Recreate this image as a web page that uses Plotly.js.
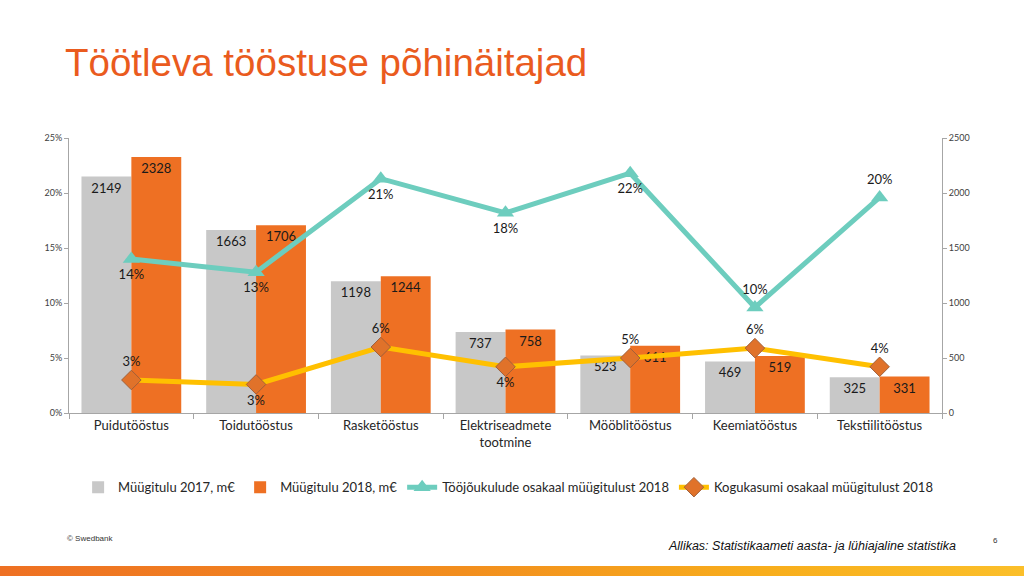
<!DOCTYPE html>
<html>
<head>
<meta charset="utf-8">
<script src="https://cdn.plot.ly/plotly-3.0.1.min.js"></script>
<style>
html,body{margin:0;padding:0;background:#fff;}
#wrap{position:relative;width:1024px;height:576px;overflow:hidden;}
#chart{width:1024px;height:576px;}
#band{position:absolute;left:0;top:566px;width:1024px;height:10px;background:linear-gradient(to right,#EE7023 0%,#F28E1E 45%,#F8AE1C 75%,#FBBF2A 100%);}
</style>
</head>
<body>
<div id="wrap"><div id="chart"></div><div id="band"></div></div>
<script>
const categories = ["Puidutööstus","Toidutööstus","Rasketööstus","Elektriseadmete<br>tootmine","Mööblitööstus","Keemiatööstus","Tekstiilitööstus"];
const sales2017 = [2149,1663,1198,737,523,469,325];
const sales2018 = [2328,1706,1244,758,611,519,331];
const laborShare = [14.0,12.8,21.3,18.2,21.8,9.6,19.6];
const profitShare = [3.0,2.6,6.0,4.2,5.0,5.9,4.2];
const laborLabelPos = ["bottom center","bottom center","bottom center","bottom center","bottom center","top center","top center"];
const profitLabelPos = ["top center","bottom center","top center","bottom center","top center","top center","top center"];
const pctTicks = [0,5,10,15,20,25];
const pctTickText = ["0%","5%","10%","15%","20%","25%"];
const salesTicks = [0,500,1000,1500,2000,2500];

const FONT = "Lato, 'Open Sans', sans-serif";
const labelFont = {family: FONT, size: 13, color: "#1a1a1a"};

const traces = [
  {type:"bar", name:"Müügitulu 2017, m€", x:categories, y:sales2017, yaxis:"y",
   marker:{color:"#C8C8C8"}, text:sales2017.map(String), textposition:"inside",
   insidetextanchor:"end", constraintext:"none", textangle:0, textfont:labelFont, insidetextfont:labelFont},
  {type:"bar", name:"Müügitulu 2018, m€", x:categories, y:sales2018, yaxis:"y",
   marker:{color:"#EE7023"}, text:sales2018.map(String), textposition:"inside",
   insidetextanchor:"end", constraintext:"none", textangle:0, textfont:labelFont, insidetextfont:labelFont},
  {type:"scatter", mode:"lines+markers+text", name:"Tööjõukulude osakaal müügitulust 2018",
   x:categories, y:laborShare, yaxis:"y2",
   line:{color:"#6DCDBE", width:5}, marker:{symbol:"triangle-up", size:15, color:"#6DCDBE"},
   texttemplate:"%{y:.0f}%", textposition:laborLabelPos, textfont:labelFont},
  {type:"scatter", mode:"lines+markers+text", name:"Kogukasumi osakaal müügitulust 2018",
   x:categories, y:profitShare, yaxis:"y2",
   line:{color:"#FFC000", width:5}, marker:{symbol:"diamond", size:15, color:"#E0722A", line:{color:"#A0603A", width:1}},
   texttemplate:"%{y:.0f}%", textposition:profitLabelPos, textfont:labelFont}
];

const axisFont = {family: FONT, size: 9, color: "#404040"};
const layout = {
  width:1024, height:576,
  paper_bgcolor:"#fff", plot_bgcolor:"#fff",
  margin:{l:69, r:82, t:138, b:163},
  barmode:"group", bargap:0.2, bargroupgap:0,
  font:{family:FONT},
  title:{text:"Töötleva tööstuse põhinäitajad", xref:"container", yref:"container",
    x:65/1024, xanchor:"left", y:1-63/576, yanchor:"middle",
    font:{family:"'Liberation Sans', Arial, sans-serif", size:38.5, color:"#EA5B1E"}},
  xaxis:{type:"category", showline:true, linecolor:"#A6A6A6", linewidth:1,
    ticks:"outside", ticklen:5, tickcolor:"#A6A6A6", tickson:"boundaries", tickangle:0,
    tickfont:{family:FONT, size:13, color:"#262626"}, showgrid:false, zeroline:false},
  yaxis:{side:"right", range:[0,2500], tickvals:salesTicks, showgrid:false, zeroline:false,
    showline:true, linecolor:"#A6A6A6", ticks:"outside", ticklen:4, tickcolor:"#A6A6A6",
    tickfont:axisFont},
  yaxis2:{overlaying:"y", side:"left", range:[0,25], tickmode:"array", tickvals:pctTicks, ticktext:pctTickText,
    showgrid:false, zeroline:false, showline:true, linecolor:"#A6A6A6",
    ticks:"outside", ticklen:4, tickcolor:"#A6A6A6", tickfont:axisFont},
  legend:{orientation:"h", x:0.503, xanchor:"center", y:-0.27, yanchor:"middle",
    font:{family:FONT, size:13, color:"#262626"}, itemwidth:30, traceorder:"normal"},
  annotations:[
    {text:"© Swedbank", xref:"paper", yref:"paper", x:(65-69)/873, y:(413-538)/275,
     xanchor:"left", yanchor:"middle", showarrow:false,
     font:{family:"'Liberation Sans', Arial, sans-serif", size:8, color:"#333"}},
    {text:"<i>Allikas: Statistikaameti aasta- ja lühiajaline statistika</i>", xref:"paper", yref:"paper",
     x:(958-69)/873, y:(413-546)/275, xanchor:"right", yanchor:"middle", showarrow:false,
     font:{family:"'Liberation Sans Narrow', 'Liberation Sans', Arial, sans-serif", size:12.5, color:"#111"}},
    {text:"6", xref:"paper", yref:"paper", x:(995-69)/873, y:(413-540)/275,
     xanchor:"center", yanchor:"middle", showarrow:false,
     font:{family:"'Liberation Sans', Arial, sans-serif", size:8, color:"#333"}}
  ]
};

Plotly.newPlot("chart", traces, layout, {displayModeBar:false, staticPlot:true});
</script>
</body>
</html>
